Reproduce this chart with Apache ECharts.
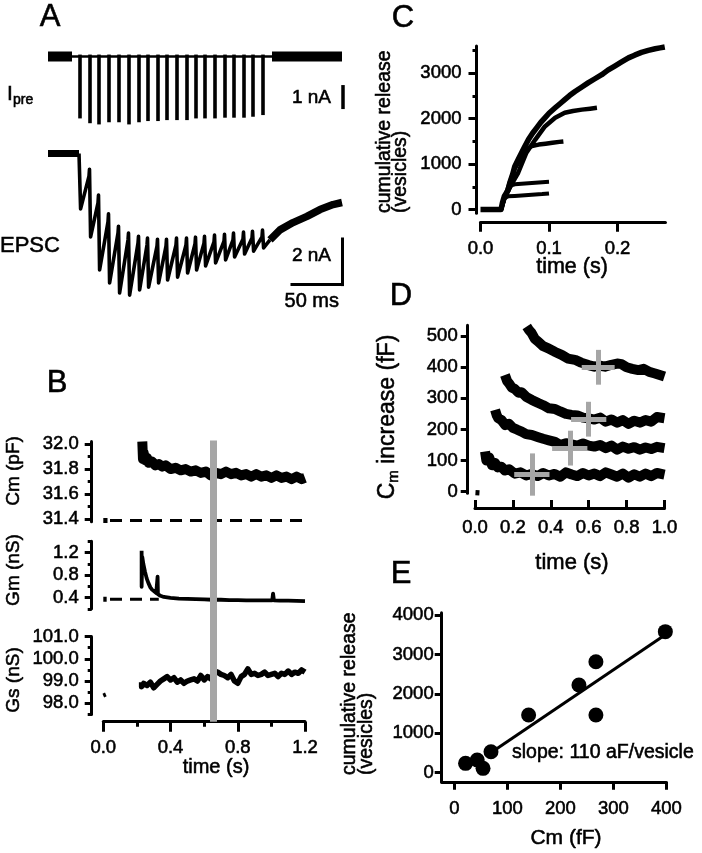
<!DOCTYPE html>
<html><head><meta charset="utf-8">
<script src="https://cdn.jsdelivr.net/npm/echarts@6/dist/echarts.min.js"></script>
<style>html,body{margin:0;padding:0;background:#fff}#c{width:702px;height:853px}</style>
</head><body><div id="c"></div>
<script>
// ---------- Panel A (time in ms, current in nA) ----------
const ipreSpikeTimes = [32,42,51,61,71,81,91,100,110,119,129,139,148,157,167,177,186,196,205,215];
const ipreSpikePeaks = [-2.58,-2.78,-2.83,-2.74,-2.74,-2.83,-2.74,-2.69,-2.69,-2.65,-2.65,-2.65,-2.58,-2.58,-2.58,-2.55,-2.55,-2.55,-2.51,-2.44];
const ipreRestPre = [[0,0],[24,0]];
const ipreTrainSpan = [[24,0],[224,0]];
const ipreRestPost = [[224,0],[294,0]];
const epscStimTimes = [32,42,51,61,71,81,91,100,110,119,129,139,148,157,167,177,186,196,205,215];
const epscPeaks = [-2.43,-3.66,-5.11,-5.68,-6.12,-6.21,-5.99,-5.86,-5.68,-5.55,-5.42,-5.24,-5.11,-4.93,-4.80,-4.67,-4.54,-4.41,-4.28,-4.14];
const epscPreStim = [0,-0.99,-2.17,-3.00,-3.49,-3.79,-3.93,-4.01,-4.06,-4.06,-4.01,-4.01,-3.97,-3.93,-3.88,-3.84,-3.79,-3.75,-3.71,-3.66];
const epscArtifact = [0,0.3,0.35,0.35,0.3,0.3,0.3,0.3,0.3,0.3,0.3,0.3,0.3,0.3,0.3,0.3,0.3,0.3,0.3,0.3];
const epscRest = [[0,0],[31,0]];
const epscTail = [[222,-3.79],[232,-3.35],[245,-3.03],[259,-2.76],[272,-2.46],[285,-2.24],[294,-2.15]];
const barIpre = {t:295, v:-2.19, nA:1};
const barEpsc = {t:294, v:-5.75, nA:2, ms:50};

// ---------- Panel B (time in s) ----------
const cmTrace = [[0.232,32.02],[0.236,31.88],[0.24,31.93],[0.25,31.87],[0.26,31.89],[0.27,31.85],[0.29,31.86],[0.31,31.83],[0.33,31.84],[0.35,31.82],[0.37,31.83],[0.40,31.80],[0.43,31.81],[0.46,31.79],[0.49,31.80],[0.52,31.78],[0.55,31.79],[0.58,31.77],[0.61,31.78],[0.64,31.75],[0.67,31.77],[0.70,31.76],[0.73,31.78],[0.76,31.76],[0.79,31.77],[0.82,31.75],[0.85,31.76],[0.88,31.74],[0.91,31.76],[0.94,31.74],[0.97,31.75],[1.00,31.73],[1.03,31.75],[1.06,31.73],[1.09,31.74],[1.12,31.72],[1.15,31.74],[1.18,31.72],[1.20,31.73]];
const cmRestDot = [[0.0,31.39],[0.025,31.39]];
const cmRestLine = [[0.04,31.39],[1.2,31.39]];
const gmTrace = [[0.228,1.23],[0.228,0.59],[0.232,1.12],[0.238,1.0],[0.248,0.86],[0.258,0.74],[0.268,0.66],[0.28,0.58],[0.29,0.54],[0.30,0.51],[0.315,0.48],[0.322,0.47],[0.323,0.77],[0.325,0.46],[0.34,0.43],[0.36,0.41],[0.4,0.395],[0.45,0.38],[0.5,0.375],[0.55,0.37],[0.6,0.365],[0.65,0.36],[0.7,0.36],[0.75,0.355],[0.8,0.355],[0.85,0.35],[0.9,0.35],[0.95,0.35],[1.005,0.35],[1.01,0.47],[1.015,0.35],[1.05,0.345],[1.1,0.345],[1.15,0.34],[1.2,0.335]];
const gmRestDot = [[0.0,0.37],[0.02,0.37]];
const gmRestLine = [[0.04,0.37],[0.33,0.37]];
const gsTrace = [[0.228,98.95],[0.228,98.75],[0.24,98.9],[0.26,98.8],[0.28,98.95],[0.30,98.7],[0.32,98.85],[0.34,99.0],[0.36,99.1],[0.38,99.2],[0.40,99.05],[0.42,99.15],[0.44,98.95],[0.46,99.05],[0.48,98.9],[0.50,99.0],[0.52,99.05],[0.54,99.1],[0.56,99.0],[0.58,99.25],[0.60,99.05],[0.62,99.2],[0.64,99.1],[0.66,99.45],[0.68,99.4],[0.70,99.3],[0.72,99.25],[0.74,99.15],[0.76,99.3],[0.78,99.0],[0.80,98.9],[0.82,99.2],[0.84,99.3],[0.86,99.55],[0.88,99.3],[0.90,99.35],[0.92,99.25],[0.94,99.3],[0.96,99.4],[0.98,99.25],[1.00,99.3],[1.02,99.35],[1.04,99.2],[1.06,99.35],[1.08,99.3],[1.10,99.45],[1.12,99.3],[1.14,99.4],[1.16,99.35],[1.18,99.5],[1.20,99.4]];
const gsRestDot = [[0.0,98.35],[0.015,98.4]];
const markerTime = 0.654;
const cmMajor = [31.4,31.6,31.8,32.0], cmMinor = [31.5,31.7,31.9];
const gmMajor = [0.4,0.8,1.2], gmMinor = [0.2,0.6,1.0,1.4];
const gsMajor = [98,99,100,101], gsMinor = [97.5,98.5,99.5,100.5];
const bTimeMajor = [0,0.4,0.8,1.2], bTimeMinor = [0.2,0.6,1.0];

// ---------- Panel C ----------
const cRel5 = [[0,0],[0.03,0],[0.032,150],[0.035,300],[0.04,420],[0.043,600],[0.047,780],[0.05,950],[0.055,1100],[0.06,1250],[0.065,1400],[0.07,1540],[0.076,1680],[0.082,1800],[0.088,1920],[0.094,2020],[0.1,2120],[0.109,2240],[0.116,2330],[0.123,2420],[0.13,2510],[0.138,2600],[0.148,2700],[0.157,2790],[0.167,2880],[0.177,2970],[0.186,3070],[0.196,3160],[0.206,3250],[0.216,3340],[0.225,3400],[0.235,3460],[0.245,3505],[0.255,3540],[0.262,3560],[0.269,3580]];
const cRel1 = [[0.03,0],[0.035,250],[0.04,290],[0.05,300],[0.06,310],[0.07,320],[0.08,330],[0.09,340],[0.1,355]];
const cRel2 = [[0.03,0],[0.035,250],[0.04,400],[0.045,530],[0.05,555],[0.06,570],[0.07,580],[0.08,590],[0.09,600],[0.1,610]];
const cRel3 = [[0.03,0],[0.035,250],[0.043,600],[0.05,900],[0.06,1150],[0.068,1330],[0.075,1400],[0.085,1430],[0.095,1450],[0.105,1470],[0.115,1490],[0.121,1500]];
const cRel4 = [[0.03,0],[0.035,250],[0.045,550],[0.055,810],[0.067,1250],[0.08,1540],[0.094,1830],[0.109,2020],[0.123,2130],[0.135,2170],[0.148,2200],[0.16,2220],[0.17,2240]];
const cYMajor = [0,1000,2000,3000], cYMinor = [500,1500,2500,3500];
const cXTicks = [0,0.1,0.2];

// ---------- Panel D ----------
const d1 = [[0.053,129],[0.06,100],[0.075,110],[0.09,85],[0.106,92],[0.12,78],[0.14,80],[0.158,68],[0.18,72],[0.21,58],[0.24,62],[0.27,52],[0.30,57],[0.33,50],[0.36,60],[0.39,52],[0.42,57],[0.45,48],[0.48,62],[0.51,55],[0.54,50],[0.57,60],[0.60,52],[0.63,58],[0.66,50],[0.69,62],[0.72,55],[0.75,48],[0.78,58],[0.81,45],[0.84,56],[0.87,48],[0.90,58],[0.93,50],[0.96,60],[1.0,55]];
const d2 = [[0.106,263],[0.115,245],[0.123,236],[0.14,230],[0.16,214],[0.18,218],[0.2,205],[0.22,200],[0.246,193],[0.27,185],[0.3,182],[0.334,175],[0.36,170],[0.39,165],[0.422,160],[0.45,150],[0.48,156],[0.51,152],[0.54,148],[0.57,155],[0.6,148],[0.63,145],[0.66,150],[0.69,140],[0.72,148],[0.75,135],[0.78,145],[0.81,138],[0.84,143],[0.87,135],[0.9,142],[0.93,137],[0.96,144],[1.0,140]];
const d3 = [[0.158,375],[0.17,355],[0.18,348],[0.194,335],[0.21,330],[0.23,318],[0.246,320],[0.27,305],[0.3,295],[0.334,285],[0.36,278],[0.39,268],[0.422,266],[0.45,258],[0.48,250],[0.51,247],[0.54,245],[0.57,238],[0.6,236],[0.63,232],[0.66,238],[0.69,225],[0.72,232],[0.75,222],[0.78,230],[0.81,218],[0.84,228],[0.87,222],[0.9,230],[0.93,225],[0.96,240],[1.0,236]];
const d4 = [[0.273,531],[0.285,520],[0.299,510],[0.315,492],[0.334,482],[0.36,468],[0.387,461],[0.42,450],[0.457,440],[0.49,428],[0.528,424],[0.56,415],[0.598,407],[0.63,402],[0.66,405],[0.686,402],[0.72,408],[0.75,412],[0.774,410],[0.8,400],[0.83,395],[0.862,391],[0.89,395],[0.92,385],[0.95,380],[0.975,375],[1.0,370]];
const d0 = [[0.014,5],[0.012,-12]];
const crossT = [0.30,0.50,0.60,0.65];
const crossC = [55,140,233,400];
const crossTErr = [0.093,0.093,0.093,0.087];
const crossCErr = [68,56,56,56];
const dXTicks = [0,0.2,0.4,0.6,0.8,1.0];
const dYTicks = [0,100,200,300,400,500];

// ---------- Panel E ----------
const eCm = [21,43,54,69,140,235,267,267,398];
const eRelease = [238,322,111,533,1464,2226,2817,1464,3579];
const eFitCm = [68,400];
const eFitRelease = [500,3520];
const eXTicks = [0,100,200,300,400];
const eYTicks = [0,1000,2000,3000,4000];

// ---------- build ----------
const FONT = "'Liberation Sans', Arial, Helvetica, sans-serif";
const BLACK = '#000';
const GRAY = '#a6a6a6';
const TB = 0.55; // text border to mimic heavy print

function hid(grid, min, max) { return {type:'value', gridIndex:grid, min:min, max:max, show:false}; }
function ax(o) {
  return {
    type:'value', gridIndex:o.grid, min:o.min, max:o.max, position:o.position, offset:o.offset||0,
    axisLine:{show:o.line!==false, onZero:false, lineStyle:{color:BLACK, width:3}},
    axisTick:{show:true, inside:!!o.inside, length:o.len, customValues:o.ticks, lineStyle:{color:BLACK, width:o.tw||3}},
    axisLabel: o.labels ? {show:true, customValues:o.labels, formatter:o.fmt, margin:o.margin, color:BLACK, fontSize:o.fs||18.5, fontFamily:FONT, textBorderColor:BLACK, textBorderWidth:TB} : {show:false},
    splitLine:{show:false}, minorTick:{show:false}
  };
}
const f1 = v => v.toFixed(1);
const f0 = v => String(Math.round(v));

const grids = [
  {left:48, top:44.5, width:300, height:84},       // 0 A Ipre
  {left:48, top:142.1, width:300, height:159.6},   // 1 A EPSC
  {left:103.3, top:441.5, width:201.7, height:80.3}, // 2 B Cm
  {left:103.3, top:541.25, width:201.7, height:67.5}, // 3 B Gm
  {left:103.3, top:636.5, width:201.7, height:78},  // 4 B Gs
  {left:103.3, top:440.5, width:201.7, height:281.2}, // 5 B marker overlay
  {left:480.5, top:46.06, width:184.95, height:167.1}, // 6 C
  {left:475, top:325.3, width:189.5, height:167.9},    // 7 D
  {left:441.7, top:612.7, width:224.7, height:169.1}   // 8 E
].map(g => Object.assign({containLabel:false, outerBoundsMode:'none'}, g));

const xAxes = [
  hid(0,0,300), hid(1,0,300), hid(2,0,1.2), hid(3,0,1.2),
  ax({grid:4, min:0, max:1.2, position:'bottom', offset:7.2, ticks:bTimeMajor, labels:bTimeMajor, fmt:f1, len:10, margin:17}),
  ax({grid:4, min:0, max:1.2, position:'bottom', offset:7.2, ticks:bTimeMinor, len:5, line:false}),
  hid(5,0,1.2),
  ax({grid:6, min:0, max:0.27, position:'bottom', offset:8.6, ticks:cXTicks, labels:cXTicks, fmt:f1, len:10, margin:18}),
  ax({grid:7, min:0, max:1.0, position:'bottom', offset:14.7, ticks:dXTicks, labels:dXTicks, fmt:f1, len:8, inside:true, margin:11}),
  ax({grid:8, min:-24, max:400, position:'bottom', offset:0, ticks:eXTicks, labels:eXTicks, fmt:f0, len:8, margin:18})
];
const yAxes = [
  hid(0,-3,0.5), hid(1,-6.5,0.5),
  ax({grid:2, min:31.38, max:32.02, position:'left', offset:11.6, ticks:cmMajor, labels:cmMajor, fmt:f1, len:7, margin:13}),
  ax({grid:2, min:31.38, max:32.02, position:'left', offset:11.6, ticks:cmMinor, len:4, line:false}),
  ax({grid:3, min:0.2, max:1.4, position:'left', offset:11.6, ticks:gmMajor, labels:gmMajor, fmt:f1, len:7, margin:13}),
  ax({grid:3, min:0.2, max:1.4, position:'left', offset:11.6, ticks:gmMinor, len:4, line:false}),
  ax({grid:4, min:97.5, max:101, position:'left', offset:11.6, ticks:gsMajor, labels:gsMajor, fmt:f1, len:7, margin:13}),
  ax({grid:4, min:97.5, max:101, position:'left', offset:11.6, ticks:gsMinor, len:4, line:false}),
  hid(5,0,1),
  ax({grid:6, min:-80, max:3600, position:'left', offset:4, ticks:cYMajor, labels:cYMajor, fmt:f0, len:8, margin:15}),
  ax({grid:6, min:-80, max:3600, position:'left', offset:4, ticks:cYMinor, len:4, line:false}),
  ax({grid:7, min:-5, max:535, position:'left', offset:7.3, ticks:dYTicks, labels:dYTicks, fmt:f0, len:7, margin:10}),
  ax({grid:8, min:-230, max:4060, position:'left', offset:0, ticks:eYTicks, labels:eYTicks, fmt:f0, len:7, margin:8})
];

function line(xi, yi, data, width, extra) {
  return Object.assign({type:'line', xAxisIndex:xi, yAxisIndex:yi, data:data, showSymbol:false, symbol:'none',
    clip:false, silent:true, animation:false, lineStyle:{color:BLACK, width:width, join:'round'}, z:3}, extra||{});
}
function segs(xi, yi, list, width, color, z, cap) {
  return {type:'lines', coordinateSystem:'cartesian2d', xAxisIndex:xi, yAxisIndex:yi, clip:false, silent:true, animation:false,
    polyline:false, z:z||4, lineStyle:{color:color||BLACK, width:width, opacity:1, cap:cap||'butt'},
    data:list.map(c => ({coords:c}))};
}

// Panel A constructions
const ipreSpikeSegs = ipreSpikeTimes.map((t,i) => [[t,0.08],[t,ipreSpikePeaks[i]]]);
const epscTrain = [];
epscStimTimes.forEach((t,i) => {
  epscTrain.push([t-1, epscPreStim[i]]);
  if (epscArtifact[i]) epscTrain.push([t-0.5, epscPreStim[i]+epscArtifact[i]]);
  epscTrain.push([t+0.6, epscPeaks[i]]);
});
epscTrain.push(epscTail[0]);
// Panel D error crosses
const crossSegs = [];
crossT.forEach((t,i) => {
  crossSegs.push([[t-crossTErr[i], crossC[i]],[t+crossTErr[i], crossC[i]]]);
  crossSegs.push([[t, crossC[i]-crossCErr[i]],[t, crossC[i]+crossCErr[i]]]);
});

const series = [
  // A
  line(0,0, ipreRestPre, 10),
  line(0,0, ipreTrainSpan, 2.6),
  segs(0,0, ipreSpikeSegs, 3.6),
  line(0,0, ipreRestPost, 10),
  segs(0,0, [[[barIpre.t, barIpre.v],[barIpre.t, barIpre.v+barIpre.nA]]], 3.5),
  line(1,1, epscRest, 7),
  line(1,1, epscTrain, 3.6),
  line(1,1, epscTail, 7.5),
  segs(1,1, [[[barEpsc.t, barEpsc.v],[barEpsc.t, barEpsc.v+barEpsc.nA]], [[barEpsc.t-barEpsc.ms, barEpsc.v],[barEpsc.t, barEpsc.v]]], 3, BLACK, 4, 'square'),
  // B
  line(2,2, cmTrace, 10),
  line(2,2, cmRestDot, 5),
  line(2,2, cmRestLine, 3, {lineStyle:{color:BLACK, width:3, type:[12,8]}}),
  line(3,4, gmTrace, 3.8),
  line(3,4, gmRestDot, 5),
  line(3,4, gmRestLine, 3, {lineStyle:{color:BLACK, width:3, type:[12,8]}}),
  line(4,6, gsTrace, 5.5),
  line(4,6, gsRestDot, 4),
  segs(6,8, [[[markerTime,0],[markerTime,1]]], 7, GRAY, 10),
  // C
  line(7,9, cRel1, 4), line(7,9, cRel2, 4), line(7,9, cRel3, 4.5), line(7,9, cRel4, 4.5), line(7,9, cRel5, 5.5),
  // D
  line(8,11, d1, 10), line(8,11, d2, 10), line(8,11, d3, 10), line(8,11, d4, 10), line(8,11, d0, 4),
  segs(8,11, crossSegs, 5, GRAY, 10),
  // E
  line(9,12, eFitCm.map((x,i)=>[x, eFitRelease[i]]), 3),
  {type:'scatter', xAxisIndex:9, yAxisIndex:12, data:eCm.map((x,i)=>[x, eRelease[i]]), symbol:'circle', symbolSize:15,
   itemStyle:{color:BLACK, opacity:1}, clip:false, silent:true, animation:false, z:5}
];

function txt(t, x, y, size, align, extra) {
  return Object.assign({type:'text', x:x, y:y, silent:true, z:20,
    style:{text:t, fill:BLACK, fontSize:size, fontFamily:FONT, textAlign:align||'center', textVerticalAlign:'middle', stroke:BLACK, lineWidth:TB}}, extra||{});
}
const R = Math.PI/2;
const graphics = [
  txt('A', 50, 17, 31), txt('B', 57, 383, 31), txt('C', 403, 18, 31), txt('D', 401, 296, 31), txt('E', 401, 574, 31),
  txt('I', 7, 94, 21, 'left'), txt('pre', 13, 100, 14, 'left'),
  txt('EPSC', 0, 246, 22, 'left'),
  txt('1 nA', 331, 98, 19, 'right'), txt('2 nA', 331, 256, 19, 'right'), txt('50 ms', 339, 301, 20, 'right'),
  txt('time (s)', 216, 767, 20),
  txt('Cm (pF)', 14, 471, 19, 'center', {rotation:R}),
  txt('Gm (nS)', 14, 570, 19, 'center', {rotation:R}),
  txt('Gs (nS)', 14, 680, 19, 'center', {rotation:R}),
  txt('cumulative release', 385, 213, 19.5, 'left', {rotation:R}),
  txt('(vesicles)', 401, 213, 19.5, 'left', {rotation:R}),
  txt('time (s)', 572, 267, 21.5),
  {type:'text', x:388, y:417, rotation:R, silent:true, z:20,
   style:{text:'{c|C}{s|m}{c| increase (fF)}', textAlign:'center', textVerticalAlign:'middle', fill:BLACK, stroke:BLACK, lineWidth:TB,
     rich:{c:{fontSize:23, fontFamily:FONT, fill:BLACK}, s:{fontSize:15, fontFamily:FONT, fill:BLACK, padding:[11,0,0,0]}}}},
  txt('time (s)', 572, 563, 22),
  txt('cumulative release', 350, 775, 19.5, 'left', {rotation:R}),
  txt('(vesicles)', 367, 775, 19.5, 'left', {rotation:R}),
  txt('Cm (fF)', 566, 838, 21),
  txt('slope: 110 aF/vesicle', 512, 753, 19.5, 'left')
];

const chart = echarts.init(document.getElementById('c'), null, {renderer:'canvas'});
chart.setOption({
  backgroundColor:'#fff', animation:false,
  textStyle:{fontFamily:FONT},
  grid:grids, xAxis:xAxes, yAxis:yAxes, series:series, graphic:graphics
});
</script></body></html>
